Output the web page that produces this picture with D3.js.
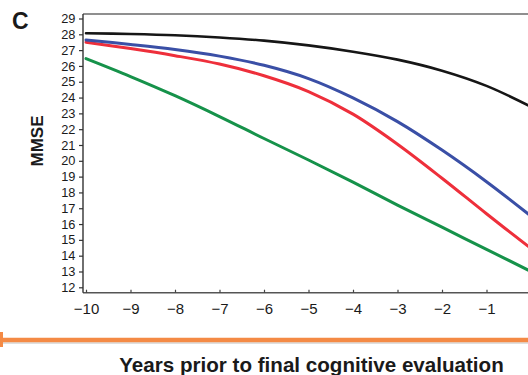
<!DOCTYPE html>
<html>
<head>
<meta charset="utf-8">
<script src="https://cdn.jsdelivr.net/npm/d3@7"></script>
<style>
  html, body { margin: 0; padding: 0; background: #fff; }
  svg { display: block; }
  text { font-family: "Liberation Sans", Arial, Helvetica, sans-serif; fill: #1a1a1a; }
</style>
</head>
<body>
<svg id="chart" width="528" height="375"></svg>
<script>
// Years before the final cognitive evaluation
const years = [-10, -9, -8, -7, -6, -5, -4, -3, -2, -1, 0];

// Modelled MMSE trajectories, one per group
const mmseBlack = [28.07, 28.02, 27.94, 27.8, 27.6, 27.3, 26.9, 26.4, 25.7, 24.74, 23.42];
const mmseBlue  = [27.64, 27.36, 27.04, 26.62, 26.04, 25.2, 23.98, 22.48, 20.68, 18.68, 16.5];
const mmseRed   = [27.5, 27.1, 26.65, 26.12, 25.38, 24.38, 22.95, 21.05, 18.9, 16.65, 14.45];
const mmseGreen = [26.46, 25.33, 24.12, 22.8, 21.41, 20.05, 18.65, 17.2, 15.8, 14.4, 13.0];

const xTicks = [-10, -9, -8, -7, -6, -5, -4, -3, -2, -1];
const yTicks = [12, 13, 14, 15, 16, 17, 18, 19, 20, 21, 22, 23, 24, 25, 26, 27, 28, 29];

const seriesList = [
  { values: mmseGreen, color: "#16924a", width: 3 },
  { values: mmseRed,   color: "#ee2f3b", width: 3 },
  { values: mmseBlue,  color: "#3a4fa6", width: 3 },
  { values: mmseBlack, color: "#161616", width: 2.6 }
];

const svg = d3.select("#chart");

const x = d3.scaleLinear().domain([-10, 0]).range([86, 531]);
const y = d3.scaleLinear().domain([12, 29]).range([287.3, 18.5]);

// Plot frame edges
const frameLeft = 83, frameRight = 528, frameTop = 14, frameBottom = 292.7;

svg.append("defs").append("clipPath").attr("id", "plot-clip")
  .append("rect").attr("x", frameLeft).attr("y", frameTop)
  .attr("width", frameRight - frameLeft).attr("height", frameBottom - frameTop);

// Curves
const line = d3.line()
  .x((d, i) => x(years[i]))
  .y(d => y(d))
  .curve(d3.curveCatmullRom.alpha(0.5));

svg.append("g").attr("clip-path", "url(#plot-clip)")
  .selectAll("path").data(seriesList).join("path")
  .attr("fill", "none")
  .attr("stroke", d => d.color)
  .attr("stroke-width", d => d.width)
  .attr("stroke-linecap", "round")
  .attr("d", d => line(d.values));

// Frame lines
svg.append("line").attr("x1", frameLeft).attr("x2", frameRight).attr("y1", frameTop).attr("y2", frameTop)
  .attr("stroke", "#6a6a6a").attr("stroke-width", 1.3);
svg.append("line").attr("x1", frameLeft).attr("x2", frameRight).attr("y1", frameBottom).attr("y2", frameBottom)
  .attr("stroke", "#555").attr("stroke-width", 1.5);
svg.append("line").attr("x1", frameLeft).attr("x2", frameLeft).attr("y1", frameTop).attr("y2", frameBottom)
  .attr("stroke", "#333").attr("stroke-width", 1.4);

// Y axis
const yAxis = svg.append("g")
  .attr("transform", `translate(${frameLeft},0)`)
  .call(d3.axisLeft(y).tickValues(yTicks).tickSize(4).tickPadding(4));
yAxis.select(".domain").remove();
yAxis.selectAll(".tick line").attr("stroke", "#333").attr("stroke-width", 1.2);
yAxis.selectAll(".tick text")
  .attr("font-size", 12.8).attr("fill", "#1a1a1a")
  .style("font-family", "'Liberation Sans', Arial, sans-serif")
  .attr("letter-spacing", -0.3);

// X axis (ticks point into the plot)
const xAxis = svg.append("g")
  .attr("transform", `translate(0,${frameBottom})`)
  .call(d3.axisBottom(x).tickValues(xTicks).tickSize(-3).tickPadding(10.6));
xAxis.select(".domain").remove();
xAxis.selectAll(".tick line").attr("stroke", "#444").attr("stroke-width", 1.2);
xAxis.selectAll(".tick text")
  .attr("font-size", 15).attr("fill", "#1a1a1a")
  .style("font-family", "'Liberation Sans', Arial, sans-serif");

// Panel letter
svg.append("text").attr("x", 12).attr("y", 28.5)
  .attr("font-size", 23).attr("font-weight", "bold").text("C");

// Y axis title
svg.append("text")
  .attr("transform", "translate(43,141) rotate(-90)")
  .attr("text-anchor", "middle")
  .attr("font-size", 17).attr("font-weight", "bold").text("MMSE");

// Time arrow under the axis
svg.append("line").attr("x1", 0).attr("x2", 528).attr("y1", 343).attr("y2", 343)
  .attr("stroke", "#b8b8b8").attr("stroke-width", 1.5).attr("opacity", 0.6);
svg.append("line").attr("x1", 0).attr("x2", 528).attr("y1", 340).attr("y2", 340)
  .attr("stroke", "#f48a45").attr("stroke-width", 4.5);
svg.append("rect").attr("x", 0).attr("y", 332).attr("width", 3).attr("height", 15)
  .attr("fill", "#f48a45");

// X axis title
svg.append("text").attr("x", 311.5).attr("y", 371.7)
  .attr("text-anchor", "middle")
  .attr("font-size", 20.6).attr("font-weight", "bold")
  .text("Years prior to final cognitive evaluation");
</script>
</body>
</html>
